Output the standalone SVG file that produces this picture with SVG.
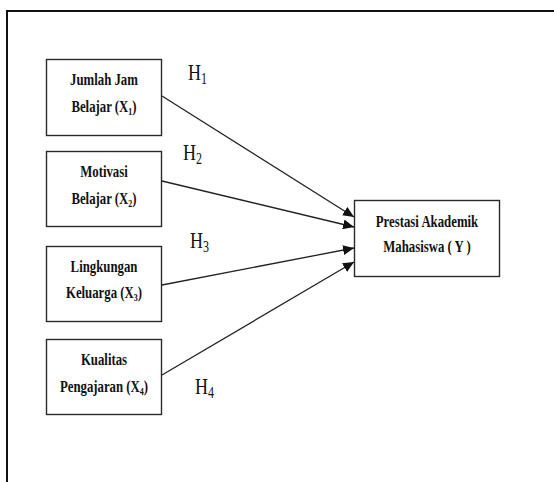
<svg xmlns="http://www.w3.org/2000/svg" width="554" height="482" viewBox="0 0 554 482">
<style>
.box{fill:#fff;stroke:#2a2a2a;stroke-width:1.4}
.bt{font-family:"Liberation Serif","Times New Roman",serif;font-weight:bold;font-size:16px;fill:#111;text-anchor:middle}
.ht{font-family:"Liberation Serif","Times New Roman",serif;font-size:24px;fill:#111}
.sub{font-size:10px}
.hs{font-size:16px}
.edge{stroke:#222;stroke-width:1.3;fill:none;marker-end:url(#ah)}
</style>
<defs>
<marker id="ah" markerUnits="userSpaceOnUse" markerWidth="12" markerHeight="10" refX="11" refY="5" orient="auto">
<path d="M0,0 L11,5 L0,10 Z" fill="#111"/>
</marker>
</defs>
<rect width="554" height="482" fill="#fff"/>
<path d="M7,482 V11 H554" fill="none" stroke="#111" stroke-width="2"/>
<g id="connectors">
<line class="edge" x1="162" y1="96" x2="354" y2="217"/>
<line class="edge" x1="162" y1="181" x2="354" y2="227"/>
<line class="edge" x1="162" y1="285" x2="354" y2="248"/>
<line class="edge" x1="162" y1="375" x2="354" y2="262"/>
</g>
<g id="x1">
<rect class="box" x="46.5" y="59.5" width="115" height="76"/>
<g transform="translate(104,0) scale(0.8,1)">
<text class="bt" x="0" y="85">Jumlah Jam</text>
<text class="bt" x="0" y="112">Belajar (X<tspan class="sub" dy="3">1</tspan><tspan dy="-3">)</tspan></text>
</g>
</g>
<g id="x2">
<rect class="box" x="46.5" y="151.5" width="115" height="75"/>
<g transform="translate(104,0) scale(0.8,1)">
<text class="bt" x="0" y="177">Motivasi</text>
<text class="bt" x="0" y="204">Belajar (X<tspan class="sub" dy="3">2</tspan><tspan dy="-3">)</tspan></text>
</g>
</g>
<g id="x3">
<rect class="box" x="46.5" y="246.5" width="115" height="75"/>
<g transform="translate(104,0) scale(0.8,1)">
<text class="bt" x="0" y="272">Lingkungan</text>
<text class="bt" x="0" y="298">Keluarga (X<tspan class="sub" dy="3">3</tspan><tspan dy="-3">)</tspan></text>
</g>
</g>
<g id="x4">
<rect class="box" x="46.5" y="339.5" width="115" height="75"/>
<g transform="translate(104,0) scale(0.8,1)">
<text class="bt" x="0" y="365">Kualitas</text>
<text class="bt" x="0" y="392">Pengajaran (X<tspan class="sub" dy="3">4</tspan><tspan dy="-3">)</tspan></text>
</g>
</g>
<g id="y">
<rect class="box" x="354.5" y="200.5" width="145" height="76"/>
<g transform="translate(427,0) scale(0.8,1)">
<text class="bt" x="0" y="227">Prestasi Akademik</text>
<text class="bt" x="0" y="252">Mahasiswa ( Y )</text>
</g>
</g>
<g id="labels">
<g transform="translate(188,0) scale(0.75,1)"><text class="ht" x="0" y="80">H<tspan class="hs" dy="4">1</tspan></text></g>
<g transform="translate(183,0) scale(0.75,1)"><text class="ht" x="0" y="160">H<tspan class="hs" dy="4">2</tspan></text></g>
<g transform="translate(190,0) scale(0.75,1)"><text class="ht" x="0" y="248">H<tspan class="hs" dy="4">3</tspan></text></g>
<g transform="translate(195,0) scale(0.75,1)"><text class="ht" x="0" y="394">H<tspan class="hs" dy="4">4</tspan></text></g>
</g>
</svg>
